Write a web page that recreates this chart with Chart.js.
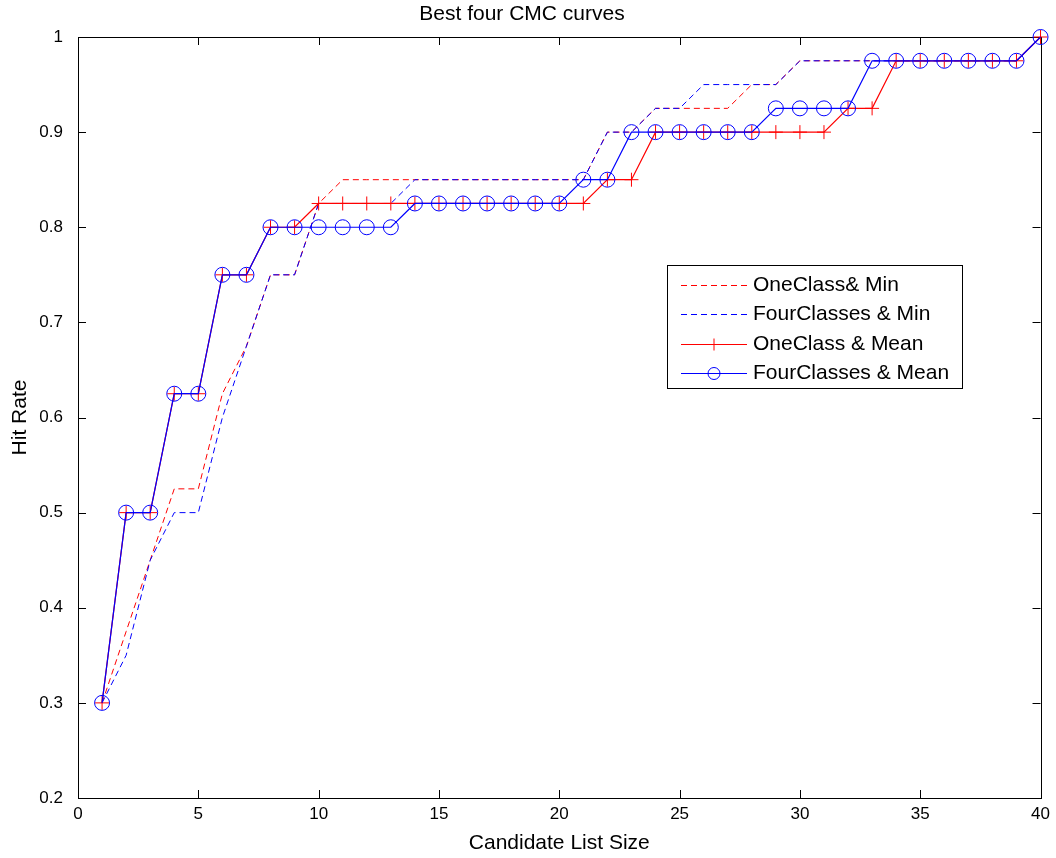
<!DOCTYPE html>
<html>
<head>
<meta charset="utf-8">
<title>Best four CMC curves</title>
<script src="https://cdn.jsdelivr.net/npm/chart.js@4/dist/chart.umd.min.js"></script>
<style>
  html, body { margin: 0; padding: 0; background: #ffffff; }
  canvas { display: block; }
</style>
</head>
<body>
<canvas id="cmc" width="1056" height="858"></canvas>
<script>
// Candidate list sizes (rank positions)
const listSize = [1, 2, 3, 4, 5, 6, 7, 8, 9, 10,
                  11, 12, 13, 14, 15, 16, 17, 18, 19, 20,
                  21, 22, 23, 24, 25, 26, 27, 28, 29, 30,
                  31, 32, 33, 34, 35, 36, 37, 38, 39, 40];

// Hit rates per rank
const oneClassMin = [0.3, 0.375, 0.45, 0.525, 0.525, 0.625, 0.675, 0.75, 0.75, 0.825,
                     0.85, 0.85, 0.85, 0.85, 0.85, 0.85, 0.85, 0.85, 0.85, 0.85,
                     0.85, 0.9, 0.9, 0.925, 0.925, 0.925, 0.925, 0.95, 0.95, 0.975,
                     0.975, 0.975, 0.975, 0.975, 0.975, 0.975, 0.975, 0.975, 0.975, 1];

const fourClassesMin = [0.3, 0.35, 0.45, 0.5, 0.5, 0.6, 0.675, 0.75, 0.75, 0.825,
                        0.825, 0.825, 0.825, 0.85, 0.85, 0.85, 0.85, 0.85, 0.85, 0.85,
                        0.85, 0.9, 0.9, 0.925, 0.925, 0.95, 0.95, 0.95, 0.95, 0.975,
                        0.975, 0.975, 0.975, 0.975, 0.975, 0.975, 0.975, 0.975, 0.975, 1];

const oneClassMean = [0.3, 0.5, 0.5, 0.625, 0.625, 0.75, 0.75, 0.8, 0.8, 0.825,
                      0.825, 0.825, 0.825, 0.825, 0.825, 0.825, 0.825, 0.825, 0.825, 0.825,
                      0.825, 0.85, 0.85, 0.9, 0.9, 0.9, 0.9, 0.9, 0.9, 0.9,
                      0.9, 0.925, 0.925, 0.975, 0.975, 0.975, 0.975, 0.975, 0.975, 1];

const fourClassesMean = [0.3, 0.5, 0.5, 0.625, 0.625, 0.75, 0.75, 0.8, 0.8, 0.8,
                         0.8, 0.8, 0.8, 0.825, 0.825, 0.825, 0.825, 0.825, 0.825, 0.825,
                         0.85, 0.85, 0.9, 0.9, 0.9, 0.9, 0.9, 0.9, 0.925, 0.925,
                         0.925, 0.925, 0.975, 0.975, 0.975, 0.975, 0.975, 0.975, 0.975, 1];

// Axis ticks and their labels
const xTickValues = [0, 5, 10, 15, 20, 25, 30, 35, 40];
const xTickLabels = ['0', '5', '10', '15', '20', '25', '30', '35', '40'];
const yTickValues = [0.2, 0.3, 0.4, 0.5, 0.6, 0.7, 0.8, 0.9, 1];
const yTickLabels = ['0.2', '0.3', '0.4', '0.5', '0.6', '0.7', '0.8', '0.9', '1'];

const seriesNames = ['OneClass& Min', 'FourClasses & Min', 'OneClass & Mean', 'FourClasses & Mean'];

const FONT = "'Liberation Sans', Arial, Helvetica, sans-serif";
const RED = '#ff0000';
const BLUE = '#0000ff';

const toPoints = (vals) => listSize.map((x, i) => ({ x: x, y: vals[i] }));

// Box frame with inward tick marks on all four sides
const framePlugin = {
  id: 'frameTicks',
  beforeDatasetsDraw(chart) {
    const { ctx, chartArea: a, scales } = chart;
    const len = 8;
    ctx.save();
    ctx.strokeStyle = '#000000';
    ctx.lineWidth = 1;
    ctx.beginPath();
    xTickValues.forEach(v => {
      const px = Math.round(scales.x.getPixelForValue(v)) + 0.5;
      ctx.moveTo(px, a.bottom); ctx.lineTo(px, a.bottom - len);
      ctx.moveTo(px, a.top); ctx.lineTo(px, a.top + len);
    });
    yTickValues.forEach(v => {
      const py = Math.round(scales.y.getPixelForValue(v)) + 0.5;
      ctx.moveTo(a.left, py); ctx.lineTo(a.left + len, py);
      ctx.moveTo(a.right, py); ctx.lineTo(a.right - len, py);
    });
    ctx.stroke();
    ctx.strokeRect(Math.round(a.left) + 0.5, Math.round(a.top) + 0.5,
                   Math.round(a.right - a.left), Math.round(a.bottom - a.top));
    ctx.restore();
  }
};

// Boxed legend inside the plot
const boxLegendPlugin = {
  id: 'boxLegend',
  afterDraw(chart) {
    const { ctx } = chart;
    const box = { x: 667.5, y: 265.5, w: 295, h: 123 };
    const rowTop = 285, rowStep = 29.3;
    const lineX0 = 681, lineX1 = 747, textX = 753;
    ctx.save();
    ctx.fillStyle = '#ffffff';
    ctx.fillRect(box.x, box.y, box.w, box.h);
    ctx.strokeStyle = '#000000';
    ctx.lineWidth = 1;
    ctx.strokeRect(box.x, box.y, box.w, box.h);
    chart.data.datasets.forEach((ds, i) => {
      const y = Math.round(rowTop + i * rowStep) + 0.5;
      ctx.strokeStyle = ds.borderColor;
      ctx.lineWidth = 1;
      ctx.setLineDash(ds.borderDash || []);
      ctx.beginPath();
      ctx.moveTo(lineX0, y); ctx.lineTo(lineX1, y);
      ctx.stroke();
      ctx.setLineDash([]);
      const cx = (lineX0 + lineX1) / 2;
      if (ds.pointStyle === 'circle' && ds.pointRadius > 0) {
        ctx.beginPath();
        ctx.arc(cx, y, 6, 0, Math.PI * 2);
        ctx.stroke();
      } else if (ds.pointStyle === 'cross' && ds.pointRadius > 0) {
        ctx.beginPath();
        ctx.moveTo(cx - 6, y); ctx.lineTo(cx + 6, y);
        ctx.moveTo(cx, y - 6); ctx.lineTo(cx, y + 6);
        ctx.stroke();
      }
      ctx.fillStyle = '#000000';
      ctx.font = '21px ' + FONT;
      ctx.textBaseline = 'middle';
      ctx.textAlign = 'left';
      ctx.fillText(ds.label, textX, y);
    });
    ctx.restore();
  }
};

const chart = new Chart(document.getElementById('cmc'), {
  type: 'line',
  data: {
    datasets: [
      {
        label: seriesNames[0],
        data: toPoints(oneClassMin),
        borderColor: RED,
        borderWidth: 1,
        borderDash: [6, 4],
        pointRadius: 0,
        pointStyle: false,
        order: 3
      },
      {
        label: seriesNames[1],
        data: toPoints(fourClassesMin),
        borderColor: BLUE,
        borderWidth: 1,
        borderDash: [6, 4],
        pointRadius: 0,
        pointStyle: false,
        order: 2
      },
      {
        label: seriesNames[2],
        data: toPoints(oneClassMean),
        borderColor: RED,
        borderWidth: 1.2,
        pointStyle: 'cross',
        pointRadius: 7,
        pointBorderWidth: 1,
        pointBorderColor: RED,
        pointBackgroundColor: 'transparent',
        order: 1
      },
      {
        label: seriesNames[3],
        data: toPoints(fourClassesMean),
        borderColor: BLUE,
        borderWidth: 1.2,
        pointStyle: 'circle',
        pointRadius: 7.5,
        pointBorderWidth: 1,
        pointBorderColor: BLUE,
        pointBackgroundColor: 'transparent',
        order: 0
      }
    ]
  },
  options: {
    responsive: false,
    animation: false,
    devicePixelRatio: 1,
    clip: false,
    layout: { padding: { left: 0, right: 12, top: 0, bottom: 0 } },
    elements: { line: { tension: 0, fill: false } },
    plugins: {
      legend: { display: false },
      tooltip: { enabled: false },
      title: {
        display: true,
        text: 'Best four CMC curves',
        color: '#000000',
        font: { family: FONT, size: 21, weight: 'normal' },
        padding: { top: 2, bottom: 9.8 }
      }
    },
    scales: {
      x: {
        type: 'linear',
        min: 0,
        max: 40,
        afterBuildTicks: s => { s.ticks = xTickValues.map(v => ({ value: v })); },
        afterFit: s => { s.height = 60; },
        grid: { display: false, drawTicks: false },
        border: { display: false },
        ticks: {
          color: '#000000',
          font: { family: FONT, size: 17 },
          padding: 6,
          maxRotation: 0,
          autoSkip: false,
          callback: v => xTickLabels[xTickValues.indexOf(v)]
        },
        title: {
          display: true,
          text: 'Candidate List Size',
          color: '#000000',
          font: { family: FONT, size: 21 },
          padding: { top: 0, bottom: 2.4 }
        }
      },
      y: {
        type: 'linear',
        min: 0.2,
        max: 1,
        afterBuildTicks: s => { s.ticks = yTickValues.map(v => ({ value: v })); },
        afterFit: s => { s.width = 78; },
        grid: { display: false, drawTicks: false },
        border: { display: false },
        ticks: {
          color: '#000000',
          font: { family: FONT, size: 17 },
          padding: 15,
          autoSkip: false,
          callback: v => {
            const i = yTickValues.findIndex(t => Math.abs(t - v) < 1e-9);
            return i >= 0 ? yTickLabels[i] : '';
          }
        },
        title: {
          display: true,
          text: 'Hit Rate',
          color: '#000000',
          font: { family: FONT, size: 21 },
          padding: { top: 7.4, bottom: 0 }
        }
      }
    }
  },
  plugins: [framePlugin, boxLegendPlugin]
});
</script>
</body>
</html>
